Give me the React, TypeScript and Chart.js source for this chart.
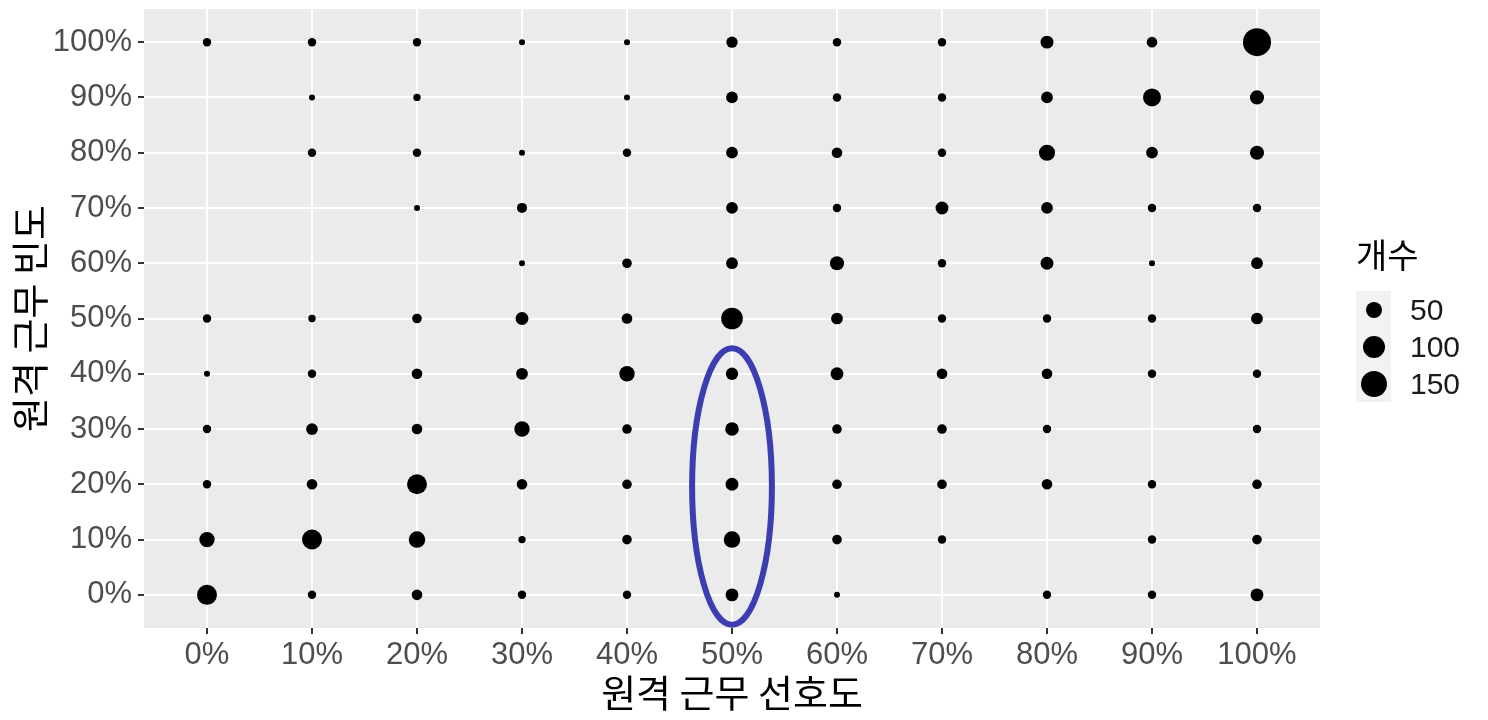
import { useEffect, useRef } from "react";
import { Chart, registerables } from "chart.js";

Chart.register(...registerables);

// both axes: 0% .. 100% in steps of 10
const percentSteps = [0, 10, 20, 30, 40, 50, 60, 70, 80, 90, 100];

// 개수 per 원격 근무 빈도 row, left to right over 원격 근무 선호도 (0 = no point)
const row100 = [9, 9, 9, 3, 3, 20, 9, 9, 28, 17, 170];
const row90 = [0, 3, 6, 0, 3, 22, 9, 9, 22, 62, 35];
const row80 = [0, 9, 9, 3, 9, 22, 17, 9, 48, 22, 35];
const row70 = [0, 0, 3, 15, 0, 22, 9, 28, 22, 9, 9];
const row60 = [0, 0, 0, 3, 13, 22, 35, 9, 28, 3, 22];
const row50 = [9, 6, 13, 28, 17, 95, 22, 9, 9, 9, 22];
const row40 = [3, 9, 17, 22, 43, 25, 28, 17, 17, 9, 9];
const row30 = [9, 22, 17, 43, 13, 32, 13, 13, 9, 0, 9];
const row20 = [9, 17, 79, 17, 13, 28, 13, 13, 17, 9, 13];
const row10 = [43, 79, 51, 6, 13, 51, 13, 9, 0, 9, 13];
const row0 = [79, 9, 17, 9, 9, 28, 3, 0, 9, 9, 28];

const rowsBottomUp = [row0, row10, row20, row30, row40, row50, row60, row70, row80, row90, row100];

const legendCounts = [50, 100, 150];

// highlighted column (blue ellipse), in axis units
const ellipseCenter = { x: 50, y: 19.6 };
const ellipseRadius = { x: 3.8, y: 25 };

// ggplot-like size scale: diameter grows with sqrt(count)
const radiusFor = (n: number) => (2.6 + 1.95 * Math.sqrt(n)) / 2;

const tickFont = "'Liberation Sans', Arial, sans-serif";
const koFont = "'Noto Sans CJK KR', 'Noto Sans', sans-serif";

const panelBackground = {
    id: "panelBackground",
    beforeDraw(chart: any) {
        const { ctx, chartArea } = chart;
        ctx.save();
        ctx.fillStyle = "#ebebeb";
        ctx.fillRect(chartArea.left, chartArea.top, chartArea.right - chartArea.left, chartArea.bottom - chartArea.top);
        ctx.restore();
    }
};

const highlightEllipse = {
    id: "highlightEllipse",
    afterDatasetsDraw(chart: any) {
        const { ctx, scales } = chart;
        const cx = scales.x.getPixelForValue(ellipseCenter.x);
        const cy = scales.y.getPixelForValue(ellipseCenter.y);
        const rx = Math.abs(scales.x.getPixelForValue(ellipseCenter.x + ellipseRadius.x) - cx);
        const ry = Math.abs(scales.y.getPixelForValue(ellipseCenter.y + ellipseRadius.y) - cy);
        ctx.save();
        ctx.beginPath();
        ctx.ellipse(cx, cy, rx, ry, 0, 0, Math.PI * 2);
        ctx.strokeStyle = "#3c3db0";
        ctx.lineWidth = 6;
        ctx.stroke();
        ctx.restore();
    }
};

const RemoteWorkBubbleChart = () => {
    const canvasRef = useRef<HTMLCanvasElement | null>(null);
    const chartRef = useRef<any>(null);

    useEffect(() => {
        if (!canvasRef.current) return;
        if (chartRef.current) chartRef.current.destroy();

        const points: { x: number; y: number; r: number }[] = [];
        rowsBottomUp.forEach((row, i) => {
            row.forEach((n, j) => {
                if (n > 0) points.push({ x: percentSteps[j], y: percentSteps[i], r: radiusFor(n) });
            });
        });

        const gridOpts = {
            color: "#ffffff",
            lineWidth: 2,
            tickColor: "#333333",
            tickWidth: 2,
            tickLength: 6
        };

        chartRef.current = new Chart(canvasRef.current, {
            type: "bubble",
            data: {
                datasets: [
                    {
                        label: "개수",
                        data: points,
                        backgroundColor: "#000000",
                        borderWidth: 0,
                        hoverRadius: 0
                    }
                ]
            },
            options: {
                animation: false,
                responsive: true,
                maintainAspectRatio: false,
                events: [],
                layout: { autoPadding: false, padding: { left: 0, right: 168, top: 9, bottom: 0 } },
                plugins: {
                    legend: { display: false },
                    tooltip: { enabled: false }
                },
                scales: {
                    x: {
                        type: "linear",
                        min: -6,
                        max: 106,
                        afterBuildTicks: (scale: any) => {
                            scale.ticks = percentSteps.map((v) => ({ value: v }));
                        },
                        afterFit: (scale: any) => {
                            scale.height = 92;
                            scale.paddingLeft = 0;
                            scale.paddingRight = 0;
                        },
                        grid: gridOpts,
                        border: { display: false },
                        ticks: {
                            color: "#4d4d4d",
                            font: { family: tickFont, size: 31 },
                            padding: 3,
                            maxRotation: 0,
                            autoSkip: false,
                            callback: (value: any) => value + "%"
                        },
                        title: {
                            display: true,
                            text: "원격 근무 선호도",
                            color: "#000000",
                            font: { family: koFont, size: 38 },
                            padding: { top: 0, bottom: 5 }
                        }
                    },
                    y: {
                        type: "linear",
                        min: -6,
                        max: 106,
                        afterBuildTicks: (scale: any) => {
                            scale.ticks = percentSteps.map((v) => ({ value: v }));
                        },
                        afterFit: (scale: any) => {
                            scale.width = 144;
                            scale.paddingTop = 0;
                            scale.paddingBottom = 0;
                        },
                        grid: gridOpts,
                        border: { display: false },
                        ticks: {
                            color: "#4d4d4d",
                            font: { family: tickFont, size: 31 },
                            padding: 6,
                            autoSkip: false,
                            callback: (value: any) => value + "%"
                        },
                        title: {
                            display: true,
                            text: "원격 근무 빈도",
                            color: "#000000",
                            font: { family: koFont, size: 38 },
                            padding: { top: 7, bottom: 0 }
                        }
                    }
                }
            } as any,
            plugins: [panelBackground, highlightEllipse]
        });

        return () => chartRef.current?.destroy();
    }, []);

    return (
        <div style={{ position: "absolute", left: 0, top: 0, width: 1488, height: 720, background: "#ffffff" }}>
            <canvas ref={canvasRef}></canvas>

            {/* size legend */}
            <div
                style={{
                    position: "absolute",
                    left: 1356,
                    top: 232,
                    fontFamily: koFont,
                    fontSize: 34,
                    lineHeight: "44px",
                    color: "#000000"
                }}
            >
                개수
            </div>
            <div style={{ position: "absolute", left: 1356, top: 291, width: 35, height: 111, background: "#f2f2f2" }} />
            {legendCounts.map((n, i) => {
                const r = radiusFor(n);
                const cy = 310 + 37 * i;
                return (
                    <div key={n}>
                        <div
                            style={{
                                position: "absolute",
                                left: 1374 - r,
                                top: cy - r,
                                width: r * 2,
                                height: r * 2,
                                borderRadius: "50%",
                                background: "#000000"
                            }}
                        />
                        <div
                            style={{
                                position: "absolute",
                                left: 1410,
                                top: cy - 18,
                                fontFamily: tickFont,
                                fontSize: 30,
                                lineHeight: "36px",
                                color: "#1a1a1a"
                            }}
                        >
                            {n}
                        </div>
                    </div>
                );
            })}
        </div>
    );
};

export default function App() {
    return <RemoteWorkBubbleChart />;
}
